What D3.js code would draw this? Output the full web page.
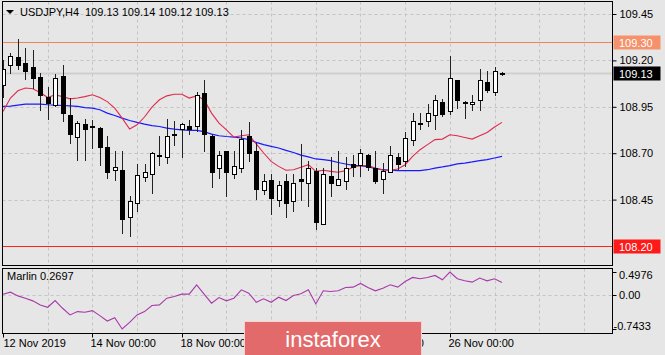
<!DOCTYPE html>
<html>
<head>
<meta charset="utf-8">
<script src="https://cdn.jsdelivr.net/npm/d3@7"></script>
<style>
    html, body { margin: 0; padding: 0; background: #e6e6e6; }
    svg { display: block; font-family: "Liberation Sans", Arial, sans-serif; }
</style>
</head>
<body>
<div class="chart_container"></div>
<script>
//^ DATA //
const symbolTitle = "USDJPY,H4";
const lastQuote = "109.13 109.14 109.12 109.13";

const opens = [109.068,109.176,109.218,109.185,109.163,109.113,109.005,108.960,109.117,108.907,
    108.787,108.857,108.844,108.835,108.731,108.611,108.611,108.357,108.429,108.570,
    108.588,108.690,108.679,108.803,108.830,108.844,108.844,109.027,108.790,108.620,
    108.710,108.588,108.620,108.790,108.710,108.500,108.558,108.450,108.549,108.441,
    108.561,108.540,108.602,108.319,108.579,108.527,108.549,108.642,108.638,108.688,
    108.620,108.561,108.597,108.679,108.660,108.769,108.862,108.875,108.907,108.975,
    108.925,109.095,108.978,108.964,108.984,109.083,109.032,109.130];
const highs = [109.203,109.239,109.314,109.266,109.256,109.134,109.056,109.127,109.176,109.000,
    108.876,108.884,108.880,108.840,108.790,108.710,108.710,108.468,108.642,108.642,
    108.705,108.790,108.884,108.876,108.862,108.880,109.029,109.095,108.805,108.710,
    108.712,108.710,108.826,108.866,108.755,108.590,108.590,108.549,108.590,108.590,
    108.749,108.656,108.620,108.620,108.679,108.710,108.679,108.692,108.723,108.697,
    108.710,108.647,108.740,108.701,108.812,108.916,108.916,108.966,109.015,108.993,
    109.224,109.097,108.982,109.015,109.154,109.145,109.163,109.140];
const lows = [109.005,109.131,109.153,109.099,109.050,108.934,108.884,108.952,108.871,108.755,
    108.665,108.665,108.728,108.638,108.567,108.558,108.271,108.253,108.387,108.549,
    108.486,108.638,108.647,108.746,108.677,108.803,108.817,108.710,108.518,108.567,
    108.468,108.567,108.597,108.660,108.454,108.480,108.370,108.418,108.357,108.387,
    108.446,108.418,108.289,108.319,108.468,108.527,108.508,108.575,108.575,108.611,
    108.540,108.486,108.597,108.615,108.630,108.746,108.830,108.844,108.832,108.902,
    108.913,108.943,108.892,108.934,108.934,109.032,109.015,109.120];
const closes = [109.153,109.224,109.176,109.144,109.104,109.015,108.973,109.104,108.916,108.805,
    108.862,108.832,108.845,108.736,108.597,108.624,108.346,108.441,108.581,108.599,
    108.701,108.691,108.790,108.804,108.857,108.832,109.011,108.803,108.597,108.692,
    108.597,108.633,108.778,108.701,108.508,108.549,108.459,108.531,108.429,108.540,
    108.549,108.620,108.328,108.590,108.540,108.561,108.620,108.626,108.701,108.624,
    108.549,108.606,108.688,108.642,108.782,108.875,108.863,108.916,108.984,108.913,
    109.104,108.984,108.978,108.975,109.095,109.041,109.144,109.130];

const fastMA = [108.925,108.997,109.036,109.051,109.047,109.027,109.000,109.015,109.005,108.993,
    108.997,109.005,109.015,109.000,108.978,108.943,108.889,108.830,108.853,108.895,
    108.948,108.988,109.009,109.018,109.018,108.997,109.009,108.988,108.916,108.862,
    108.826,108.787,108.794,108.799,108.750,108.701,108.656,108.629,108.608,108.611,
    108.624,108.638,108.602,108.608,108.602,108.597,108.606,108.624,108.633,108.633,
    108.620,108.608,108.608,108.615,108.638,108.683,108.719,108.746,108.773,108.776,
    108.799,108.794,108.785,108.776,108.794,108.812,108.841,108.866];
const slowMA = [108.952,108.954,108.959,108.964,108.964,108.964,108.961,108.959,108.957,108.955,
    108.952,108.946,108.943,108.934,108.916,108.903,108.889,108.876,108.866,108.857,
    108.849,108.844,108.835,108.830,108.826,108.823,108.823,108.816,108.803,108.794,
    108.790,108.787,108.782,108.773,108.758,108.746,108.737,108.728,108.715,108.704,
    108.690,108.680,108.669,108.665,108.660,108.650,108.642,108.634,108.633,108.626,
    108.618,108.611,108.608,108.606,108.606,108.606,108.606,108.611,108.620,108.626,
    108.633,108.642,108.647,108.653,108.660,108.665,108.674,108.683];

const marlin = [0.015,0.059,-0.022,-0.073,-0.131,-0.219,-0.270,-0.124,-0.292,-0.438,
    -0.365,-0.380,-0.343,-0.452,-0.569,-0.496,-0.7433,-0.598,-0.438,-0.365,
    -0.233,-0.219,-0.073,-0.036,0.015,0.015,0.219,0.015,-0.182,-0.058,
    -0.131,-0.073,0.109,0.036,-0.161,-0.087,-0.161,-0.051,-0.124,-0.014,
    0.022,0.109,-0.197,0.088,0.073,0.088,0.161,0.168,0.248,0.161,
    0.088,0.146,0.219,0.168,0.292,0.379,0.350,0.379,0.423,0.328,
    0.4976,0.350,0.306,0.277,0.365,0.306,0.350,0.2697];
const marlinLabel = "Marlin 0.2697";
const marlinTicks = [0.4976, 0, -0.7433];
const marlinTickLabels = ["0.4976", "0.00", "-0.7433"];

const priceTicks = [109.45, 109.20, 108.95, 108.70, 108.45];
const resistance = 109.30;
const support = 108.20;
const bidPrice = 109.13;

const dateTickBars = [0, 12, 24, 36, 48, 60];
const dateLabels = ["12 Nov 2019", "14 Nov 00:00", "18 Nov 00:00", "20 Nov 00:00", "22 Nov 00:00", "26 Nov 00:00"];
const gridBars = [6, 12, 18, 24, 30, 36, 42, 48, 54, 60, 66, 72, 78];

//^ DIMENSIONS //
const width = 665;
const height = 355;
const left = 2.5;
const right = 612.5;
const mainTop = 1.5;
const mainBottom = 265.5;
const subTop = 268.5;
const subBottom = 333.5;

const svg = d3.select(".chart_container").append("svg").attr("width", width).attr("height", height);
svg.append("rect").attr("width", width).attr("height", height).attr("fill", "#e6e6e6");

//^ SCALES //
const xScale = d3.scaleLinear().domain([0, 67]).range([3, 502]);
const yPrice = d3.scaleLinear().domain([108.2, 109.45]).range([246, 14]);
const ySub = d3.scaleLinear().domain([-0.7433, 0.4976]).range([329, 272]);
const px = (i) => Math.round(xScale(i));
const py = (v) => Math.round(yPrice(v));

const defs = svg.append("defs");
defs.append("clipPath").attr("id", "clipMain").append("rect")
    .attr("x", left).attr("y", mainTop).attr("width", right - left).attr("height", mainBottom - mainTop);
defs.append("clipPath").attr("id", "clipSub").append("rect")
    .attr("x", left).attr("y", subTop).attr("width", right - left).attr("height", subBottom - subTop);

//^ GRID //
const grid = svg.append("g").attr("stroke", "#c4c4c4").attr("stroke-dasharray", "3,3").attr("stroke-width", 1);
grid.selectAll(".hg").data(priceTicks).enter().append("line")
    .attr("x1", left).attr("x2", right)
    .attr("y1", (d) => py(d) + 0.5).attr("y2", (d) => py(d) + 0.5);
grid.selectAll(".vg").data(gridBars).enter().append("line")
    .attr("x1", (d) => px(d) + 0.5).attr("x2", (d) => px(d) + 0.5)
    .attr("y1", mainTop).attr("y2", mainBottom);
grid.selectAll(".vs").data(gridBars).enter().append("line")
    .attr("x1", (d) => px(d) + 0.5).attr("x2", (d) => px(d) + 0.5)
    .attr("y1", subTop).attr("y2", subBottom);
grid.append("line").attr("x1", left).attr("x2", right)
    .attr("y1", Math.round(ySub(0)) + 0.5).attr("y2", Math.round(ySub(0)) + 0.5);

//^ MAIN PLOT //
const main = svg.append("g").attr("clip-path", "url(#clipMain)");

// bid line
main.append("line").attr("x1", left).attr("x2", right)
    .attr("y1", yPrice(bidPrice)).attr("y2", yPrice(bidPrice))
    .attr("stroke", "#cfcfcf").attr("stroke-width", 2);

// level lines
main.append("line").attr("x1", left).attr("x2", right)
    .attr("y1", py(resistance) + 0.5).attr("y2", py(resistance) + 0.5)
    .attr("stroke", "#f0825a").attr("stroke-width", 1);
main.append("line").attr("x1", left).attr("x2", right)
    .attr("y1", py(support) + 0.5).attr("y2", py(support) + 0.5)
    .attr("stroke", "#ff2020").attr("stroke-width", 1);

// moving averages
const maLine = (arr) => d3.line().x((d, i) => xScale(i)).y((d) => yPrice(d))(arr);
main.append("path").attr("d", maLine(slowMA)).attr("fill", "none").attr("stroke", "#1a1aff").attr("stroke-width", 1.2);
main.append("path").attr("d", maLine(fastMA)).attr("fill", "none").attr("stroke", "#e02a4e").attr("stroke-width", 1.1);

// candles
const candles = main.selectAll(".candle").data(opens).enter().append("g").attr("class", "candle");
candles.append("line")
    .attr("x1", (d, i) => px(i) + 0.5).attr("x2", (d, i) => px(i) + 0.5)
    .attr("y1", (d, i) => py(highs[i])).attr("y2", (d, i) => py(lows[i]) + 1)
    .attr("stroke", "#222").attr("stroke-width", 1);
candles.append("rect")
    .attr("x", (d, i) => (closes[i] >= d ? px(i) - 1.5 : px(i) - 2))
    .attr("y", (d, i) => (closes[i] >= d ? Math.min(py(d), py(closes[i])) + 0.5 : Math.min(py(d), py(closes[i]))))
    .attr("width", (d, i) => (closes[i] >= d ? 4 : 5))
    .attr("height", (d, i) => {
        const h = Math.abs(py(d) - py(closes[i]));
        return closes[i] >= d ? Math.max(h, 1) : Math.max(h + 1, 1);
    })
    .attr("fill", (d, i) => (closes[i] >= d ? "#ffffff" : "#000000"))
    .attr("stroke", (d, i) => (closes[i] >= d ? "#000000" : "none"))
    .attr("stroke-width", 1);

//^ INDICATOR //
const sub = svg.append("g").attr("clip-path", "url(#clipSub)");
sub.append("path")
    .attr("d", d3.line().x((d, i) => xScale(i)).y((d) => ySub(d))(marlin))
    .attr("fill", "none").attr("stroke", "#a83aa8").attr("stroke-width", 1.1);

//^ FRAMES //
svg.append("rect").attr("x", left).attr("y", mainTop).attr("width", right - left).attr("height", mainBottom - mainTop)
    .attr("fill", "none").attr("stroke", "#000");
svg.append("rect").attr("x", left).attr("y", subTop).attr("width", right - left).attr("height", subBottom - subTop)
    .attr("fill", "none").attr("stroke", "#000");

//^ PRICE AXIS //
const priceAxis = d3.axisRight(yPrice).tickValues(priceTicks).tickSize(4).tickPadding(3).tickFormat(d3.format(".2f"));
const pa = svg.append("g").attr("transform", `translate(${right},0)`).call(priceAxis);
pa.select(".domain").remove();
pa.selectAll("text").attr("font-size", 11).attr("fill", "#000").attr("font-family", "Liberation Sans, Arial, sans-serif");
pa.selectAll("line").attr("stroke", "#000");

const priceBoxes = [
    { v: resistance, fill: "#f5916b" },
    { v: bidPrice, fill: "#000000" },
    { v: support, fill: "#ff1a1a" }
];
const pb = svg.selectAll(".pbox").data(priceBoxes).enter().append("g");
pb.append("rect").attr("x", right + 1).attr("y", (d) => py(d.v) - 6.5).attr("width", 47).attr("height", 14).attr("fill", (d) => d.fill);
pb.append("text").attr("x", right + 6.5).attr("y", (d) => py(d.v) + 4.5).attr("font-size", 11).attr("fill", "#fff")
    .text((d) => d3.format(".2f")(d.v));

//^ INDICATOR AXIS //
const subAxis = svg.append("g").attr("transform", `translate(${right},0)`);
subAxis.selectAll("line").data(marlinTicks).enter().append("line")
    .attr("x1", 0).attr("x2", 4).attr("y1", (d) => Math.round(ySub(d)) + 0.5).attr("y2", (d) => Math.round(ySub(d)) + 0.5)
    .attr("stroke", "#000");
subAxis.selectAll("text").data(marlinTicks).enter().append("text")
    .attr("x", (d, i) => (marlinTickLabels[i][0] === "-" ? 1 : 6.5))
    .attr("y", (d, i) => [275, 295, 326][i] + 4)
    .attr("font-size", 11).attr("fill", "#000")
    .text((d, i) => marlinTickLabels[i]);

//^ TIME AXIS //
const timeAxis = d3.axisBottom(xScale).tickValues(dateTickBars).tickSize(4).tickPadding(2)
    .tickFormat((d, i) => dateLabels[i]);
const ta = svg.append("g").attr("transform", `translate(0.5,${subBottom})`).call(timeAxis);
ta.select(".domain").remove();
ta.selectAll(".tick").attr("transform", (d) => `translate(${px(d)},0)`);
ta.selectAll("line").attr("stroke", "#000");
ta.selectAll("text").attr("text-anchor", "start").attr("x", (d) => (d === 0 ? 0 : -2)).attr("font-size", 11).attr("fill", "#000")
    .attr("font-family", "Liberation Sans, Arial, sans-serif");

//^ TITLES //
svg.append("path").attr("d", "M6,10 L14,10 L10,14 Z").attr("fill", "#000");
svg.append("text").attr("x", 20).attr("y", 16).attr("font-size", 11).attr("fill", "#000").text(symbolTitle);
svg.append("text").attr("x", 85).attr("y", 16).attr("font-size", 11).attr("fill", "#000").text(lastQuote);
svg.append("text").attr("x", 7).attr("y", 280).attr("font-size", 11).attr("fill", "#000").text(marlinLabel);

//^ WATERMARK //
svg.append("rect").attr("x", 244.5).attr("y", 321.5).attr("width", 177).attr("height", 40)
    .attr("fill", "#e36a6a").attr("stroke", "#f6d2d2").attr("stroke-width", 1);
svg.append("text").attr("x", 333).attr("y", 347).attr("text-anchor", "middle")
    .attr("font-size", 22).attr("fill", "#fff").text("instaforex");
</script>
</body>
</html>
